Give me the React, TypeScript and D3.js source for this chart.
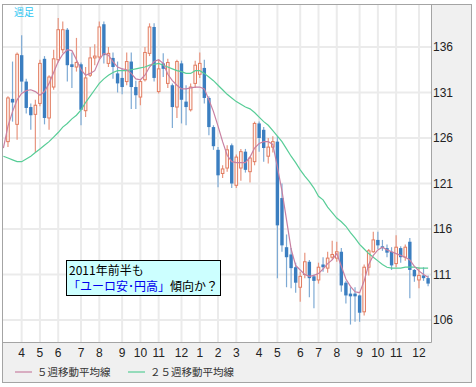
import * as React from 'react';
import * as d3 from 'd3';

// week of the first moving-average point, and of the last candle
const firstWeek = new Date(Date.UTC(2009, 2, 9));
const lastWeek = new Date(Date.UTC(2010, 11, 20));

// weekly candles, starting with the week of 2009-03-16
const opens = [
    125.6, 130.3, 127.5, 135.1, 132.2, 129.4, 128.6, 129.8, 134.7, 128.2,
    131.6, 134.6, 135.7, 137.9, 134.1, 133.8, 134.1, 129.0, 132.9, 134.8,
    134.9, 138.5, 134.2, 134.8, 133.1, 132.6, 132.2, 134.4, 131.6, 130.5,
    132.4, 135.3, 138.2, 131.1, 134.2, 132.0, 131.8, 129.4, 134.2, 130.0,
    129.1, 132.0, 133.0, 133.7, 130.4, 127.2, 124.7, 122.1, 122.7, 125.2,
    120.8, 122.7, 124.5, 122.3, 123.4, 127.6, 126.9, 124.0, 125.0, 125.6,
    119.4, 114.0, 113.2, 111.8, 109.6, 111.0, 112.4, 110.8, 110.4, 112.1,
    111.7, 112.9, 112.8, 113.5, 110.1, 108.9, 108.9, 108.7, 106.9, 111.8,
    113.5, 114.8, 114.1, 113.9, 113.5, 112.2, 113.9, 112.9, 114.6, 111.5,
    110.4, 110.9, 110.6
];
const highs = [
    130.6, 134.4, 135.4, 137.3, 132.5, 129.8, 130.2, 134.6, 135.0, 132.9,
    135.7, 139.2, 138.8, 138.1, 135.4, 137.0, 134.3, 133.8, 136.0, 136.3,
    138.8, 138.8, 136.0, 135.4, 134.4, 133.7, 135.4, 135.4, 132.3, 132.4,
    136.0, 138.6, 138.6, 134.6, 135.3, 134.7, 132.0, 134.6, 134.5, 131.8,
    132.0, 134.5, 135.4, 134.6, 130.6, 127.4, 125.0, 123.0, 125.2, 125.4,
    124.2, 124.8, 124.8, 124.0, 127.8, 127.8, 127.2, 126.0, 126.2, 126.2,
    121.0, 115.4, 113.9, 112.3, 111.3, 113.4, 112.6, 111.0, 112.3, 112.9,
    113.5, 114.7, 114.6, 113.9, 110.3, 109.6, 109.6, 108.8, 112.1, 113.8,
    115.7, 115.7, 114.8, 114.3, 114.0, 115.3, 114.1, 114.3, 115.0, 111.6,
    111.8, 111.8, 110.9
];
const lows = [
    125.0, 127.8, 125.8, 131.0, 128.7, 126.9, 124.4, 129.5, 127.5, 126.9,
    131.3, 134.3, 135.3, 132.2, 131.5, 133.3, 127.4, 128.3, 132.7, 134.0,
    134.6, 134.2, 133.8, 132.5, 131.0, 130.8, 131.8, 129.2, 129.2, 129.6,
    132.2, 135.0, 132.2, 130.9, 132.7, 131.5, 127.1, 128.2, 127.6, 127.4,
    128.9, 131.5, 132.6, 129.8, 126.3, 124.7, 120.6, 121.6, 122.3, 120.5,
    120.5, 121.3, 122.2, 121.1, 123.0, 124.5, 123.4, 123.2, 124.4, 110.6,
    113.5, 109.6, 109.5, 109.0, 108.0, 110.6, 108.5, 107.3, 110.0, 111.3,
    111.2, 112.6, 112.4, 109.1, 107.8, 105.5, 105.8, 105.8, 106.5, 110.9,
    113.4, 113.8, 113.6, 112.9, 111.5, 111.8, 112.3, 112.5, 108.4, 110.2,
    109.5, 110.3, 109.7
];
const closes = [
    130.4, 129.9, 135.2, 132.2, 129.3, 128.5, 129.6, 134.2, 128.2, 132.7,
    134.7, 137.9, 137.9, 134.0, 133.8, 134.3, 129.1, 132.6, 134.8, 135.0,
    138.2, 135.1, 135.3, 133.8, 132.0, 131.6, 134.4, 131.6, 130.7, 132.2,
    135.4, 138.2, 132.6, 133.6, 133.6, 134.3, 129.4, 134.4, 130.2, 129.4,
    131.6, 134.0, 134.2, 130.4, 127.2, 125.1, 121.9, 122.6, 124.7, 121.0,
    123.9, 124.5, 122.5, 123.8, 127.6, 126.0, 124.9, 125.0, 125.6, 116.4,
    114.2, 112.9, 111.7, 110.1, 110.8, 112.4, 110.6, 110.3, 111.8, 111.8,
    112.8, 113.2, 113.5, 109.8, 108.7, 108.6, 108.6, 106.8, 111.8, 113.6,
    114.8, 114.2, 113.9, 113.4, 112.0, 114.0, 112.9, 114.0, 111.5, 110.8,
    110.9, 110.6, 110.0
];

// moving averages, starting with the week of 2009-03-09
const ma5 = [
    124.9, 127.3, 128.9, 130.2, 130.9, 131.2, 131.3, 131.1, 130.7, 131.1,
    132.0, 133.2, 134.4, 135.2, 135.7, 135.6, 134.6, 133.5, 132.9, 133.1,
    133.4, 134.6, 135.3, 135.1, 134.4, 133.8, 133.6, 133.5, 133.1, 132.5,
    132.4, 132.9, 133.8, 134.4, 134.6, 134.2, 133.0, 132.3, 131.8, 131.4,
    131.4, 131.5, 131.6, 131.6, 131.4, 130.2, 128.9, 127.3, 125.6, 124.1,
    123.4, 123.3, 123.3, 123.3, 123.9, 124.9, 125.4, 125.6, 125.6, 125.3,
    122.8, 120.2, 117.0, 113.8, 112.0, 111.5, 111.0, 110.8, 110.9, 111.1,
    111.6, 112.2, 112.6, 113.3, 111.9, 110.5, 109.7, 109.1, 109.0, 110.3,
    112.1, 113.1, 113.7, 114.0, 113.7, 113.5, 113.3, 113.1, 112.9, 112.6,
    111.9, 111.4, 111.0, 110.7
];
const ma25 = [
    124.0, 123.8, 123.6, 123.4, 123.4, 123.7, 124.0, 124.4, 124.8, 125.2,
    125.6, 126.1, 126.6, 127.2, 127.6, 128.1, 128.5, 129.1, 129.9, 130.6,
    131.3, 132.0, 132.5, 132.9, 133.2, 133.4, 133.4, 133.4, 133.5, 133.6,
    133.7, 133.8, 134.0, 134.1, 134.2, 134.0, 133.8, 133.6, 133.4, 133.3,
    133.1, 133.1, 133.4, 133.4, 133.1, 132.7, 132.3, 131.8, 131.3, 130.8,
    130.4, 130.0, 129.7, 129.4, 129.2, 128.8, 128.3, 127.8, 127.4, 126.8,
    126.2, 125.6, 124.8, 124.0, 123.3, 122.5, 121.8, 121.2, 120.5, 119.6,
    119.2, 118.4, 117.8, 117.2, 116.8, 116.3, 115.6, 115.0, 114.3, 113.8,
    113.3, 112.9, 112.5, 112.1, 111.8, 111.7, 111.7, 111.7, 111.8, 111.8,
    111.8, 111.7, 111.7, 111.7
];

const monthLabels = ['4', '5', '6', '7', '8', '9', '10', '11', '12', '1', '2',
    '3', '4', '5', '6', '7', '8', '9', '10', '11', '12'];
const priceTicks = [106, 111, 116, 121, 126, 131, 136];

const legendLabels = ['５週移動平均線', '２５週移動平均線'];
const noteLine1 = '2011年前半も';
const noteBlue = '「ユーロ安･円高」';
const noteRest = '傾向か？';

const upColor = '#e27c60';
const upWick = '#e8957f';
const upFill = '#fff6f3';
const downColor = '#3b7ec0';
const downWick = '#7eaad4';
const ma5Color = '#c880a2';
const ma25Color = '#58cd97';
const gridColor = '#ebebeb';
const frameColor = '#a4a4a4';
const textFont = '"Liberation Sans", Arial, sans-serif';
const jpFont = '"Noto Sans CJK JP", sans-serif';

class CandleChart extends React.PureComponent<{}, {}> {

    svg: SVGSVGElement

    _draw() {
        let width = 476, height = 387;
        let plot = { left: 3, top: 5, right: 431, bottom: 342 };

        let svg = d3.select(this.svg)
            .attr('width', width)
            .attr('height', height);
        svg.selectAll('*').remove();

        let xScale = d3.scaleUtc()
            .domain([firstWeek, lastWeek])
            .range([3.4, 428.1]);
        let yScale = d3.scaleLinear()
            .domain([106, 136])
            .range([320, 47]);

        let candleWeeks = closes.map((c, i) => d3.utcMonday.offset(firstWeek, i + 1));
        let maWeeks = ma5.map((v, i) => d3.utcMonday.offset(firstWeek, i));
        let monthWeeks = d3.utcMonth.range(new Date(Date.UTC(2009, 3, 1)), new Date(Date.UTC(2011, 0, 1)))
            .map((d) => d3.utcMonday.ceil(d));

        // frame and axis panels
        svg.append('rect')
            .attr('x', 2.5).attr('y', 4.5)
            .attr('width', 469).attr('height', 378)
            .attr('fill', '#f0f0f0')
            .attr('stroke', frameColor);
        svg.append('rect')
            .attr('x', plot.left).attr('y', plot.top)
            .attr('width', plot.right - plot.left).attr('height', plot.bottom - plot.top)
            .attr('fill', '#fff');

        svg.append('clipPath').attr('id', 'plot-clip')
            .append('rect')
            .attr('x', plot.left).attr('y', plot.top)
            .attr('width', plot.right - plot.left).attr('height', plot.bottom - plot.top);

        let g = svg.append('g').attr('clip-path', 'url(#plot-clip)');

        // grid
        g.selectAll('.hgrid')
            .data(priceTicks)
            .enter()
                .append('line')
                .attr('x1', plot.left).attr('x2', plot.right)
                .attr('y1', (v) => yScale(v)).attr('y2', (v) => yScale(v))
                .attr('stroke', gridColor).attr('stroke-width', 2);
        g.selectAll('.vgrid')
            .data(monthWeeks)
            .enter()
                .append('line')
                .attr('x1', (d) => xScale(d)).attr('x2', (d) => xScale(d))
                .attr('y1', plot.top).attr('y2', plot.bottom)
                .attr('stroke', gridColor).attr('stroke-width', 2);

        // candles
        let candles = g.selectAll('.candle')
            .data(closes.map((c, i) => ({
                date: candleWeeks[i], open: opens[i], high: highs[i], low: lows[i], close: c
            })))
            .enter()
                .append('g');
        candles.append('line')
            .attr('x1', (d) => xScale(d.date)).attr('x2', (d) => xScale(d.date))
            .attr('y1', (d) => yScale(d.high)).attr('y2', (d) => yScale(d.low))
            .attr('stroke', (d) => d.close >= d.open ? upWick : downWick)
            .attr('stroke-width', 1.2);
        candles.append('rect')
            .attr('x', (d) => xScale(d.date) - (d.close >= d.open ? 1.3 : 1.7))
            .attr('width', (d) => d.close >= d.open ? 2.6 : 3.4)
            .attr('y', (d) => yScale(Math.max(d.open, d.close)))
            .attr('height', (d) => Math.max(1, Math.abs(yScale(d.open) - yScale(d.close))))
            .attr('fill', (d) => d.close >= d.open ? upFill : downColor)
            .attr('stroke', (d) => d.close >= d.open ? upColor : 'none')
            .attr('stroke-width', 1);

        // moving averages
        let line = d3.line<number>()
            .x((v, i) => xScale(maWeeks[i]))
            .y((v) => yScale(v));
        g.append('path')
            .attr('d', line(ma25))
            .attr('fill', 'none')
            .attr('stroke', ma25Color)
            .attr('stroke-width', 1.2);
        g.append('path')
            .attr('d', line(ma5))
            .attr('fill', 'none')
            .attr('stroke', ma5Color)
            .attr('stroke-width', 1.2);

        // plot borders
        svg.append('line')
            .attr('x1', plot.right + 0.5).attr('x2', plot.right + 0.5)
            .attr('y1', 4.5).attr('y2', plot.bottom + 0.5)
            .attr('stroke', frameColor);
        svg.append('line')
            .attr('x1', 2.5).attr('x2', plot.right + 0.5)
            .attr('y1', plot.bottom + 0.5).attr('y2', plot.bottom + 0.5)
            .attr('stroke', frameColor);

        // axis labels
        svg.selectAll('.ylabel')
            .data(priceTicks)
            .enter()
                .append('text')
                .attr('x', 433)
                .attr('y', (v) => yScale(v))
                .attr('dy', '0.36em')
                .attr('font-family', textFont)
                .attr('font-size', 12)
                .attr('fill', '#222')
                .text((v) => v);
        svg.selectAll('.xlabel')
            .data(monthLabels)
            .enter()
                .append('text')
                .attr('x', (m, i) => xScale(monthWeeks[i]))
                .attr('y', 357)
                .attr('text-anchor', 'middle')
                .attr('font-family', textFont)
                .attr('font-size', 12)
                .attr('fill', '#222')
                .text((m) => m);

        svg.append('text')
            .attr('x', 14).attr('y', 16)
            .attr('font-family', jpFont)
            .attr('font-size', 10)
            .attr('fill', '#2ec6f2')
            .text('週足');

        // legend
        let legend = svg.selectAll('.legend')
            .data(legendLabels)
            .enter()
                .append('g')
                .attr('transform', (t, i) => 'translate(' + (i === 0 ? 15 : 128) + ',372)');
        legend.append('line')
            .attr('x1', 0).attr('x2', 17)
            .attr('stroke', (t, i) => i === 0 ? ma5Color : ma25Color)
            .attr('stroke-width', 1.2);
        legend.append('text')
            .attr('x', 22).attr('dy', '0.36em')
            .attr('font-family', jpFont)
            .attr('font-size', 10.5)
            .attr('fill', '#333')
            .text((t) => t);

        // note box
        svg.append('rect')
            .attr('x', 66.5).attr('y', 260.5)
            .attr('width', 154).attr('height', 35)
            .attr('fill', '#ccffff')
            .attr('stroke', '#000');
        svg.append('text')
            .attr('x', 69).attr('y', 275)
            .attr('font-family', jpFont)
            .attr('font-size', 12)
            .attr('fill', '#000')
            .text(noteLine1);
        let note2 = svg.append('text')
            .attr('x', 68).attr('y', 291)
            .attr('font-family', jpFont)
            .attr('font-size', 12);
        note2.append('tspan').attr('fill', '#0000ee').text(noteBlue);
        note2.append('tspan').attr('fill', '#000').text(noteRest);
    }

    componentDidMount() {
        this._draw();
    }

    render() {
        return (
            <svg ref={ (svg) => { this.svg = svg; } }
                 style={{ position: 'absolute', left: 0, top: 0, display: 'block' }}></svg>
        );
    }
}

export default function App() {
    return <CandleChart />;
}
